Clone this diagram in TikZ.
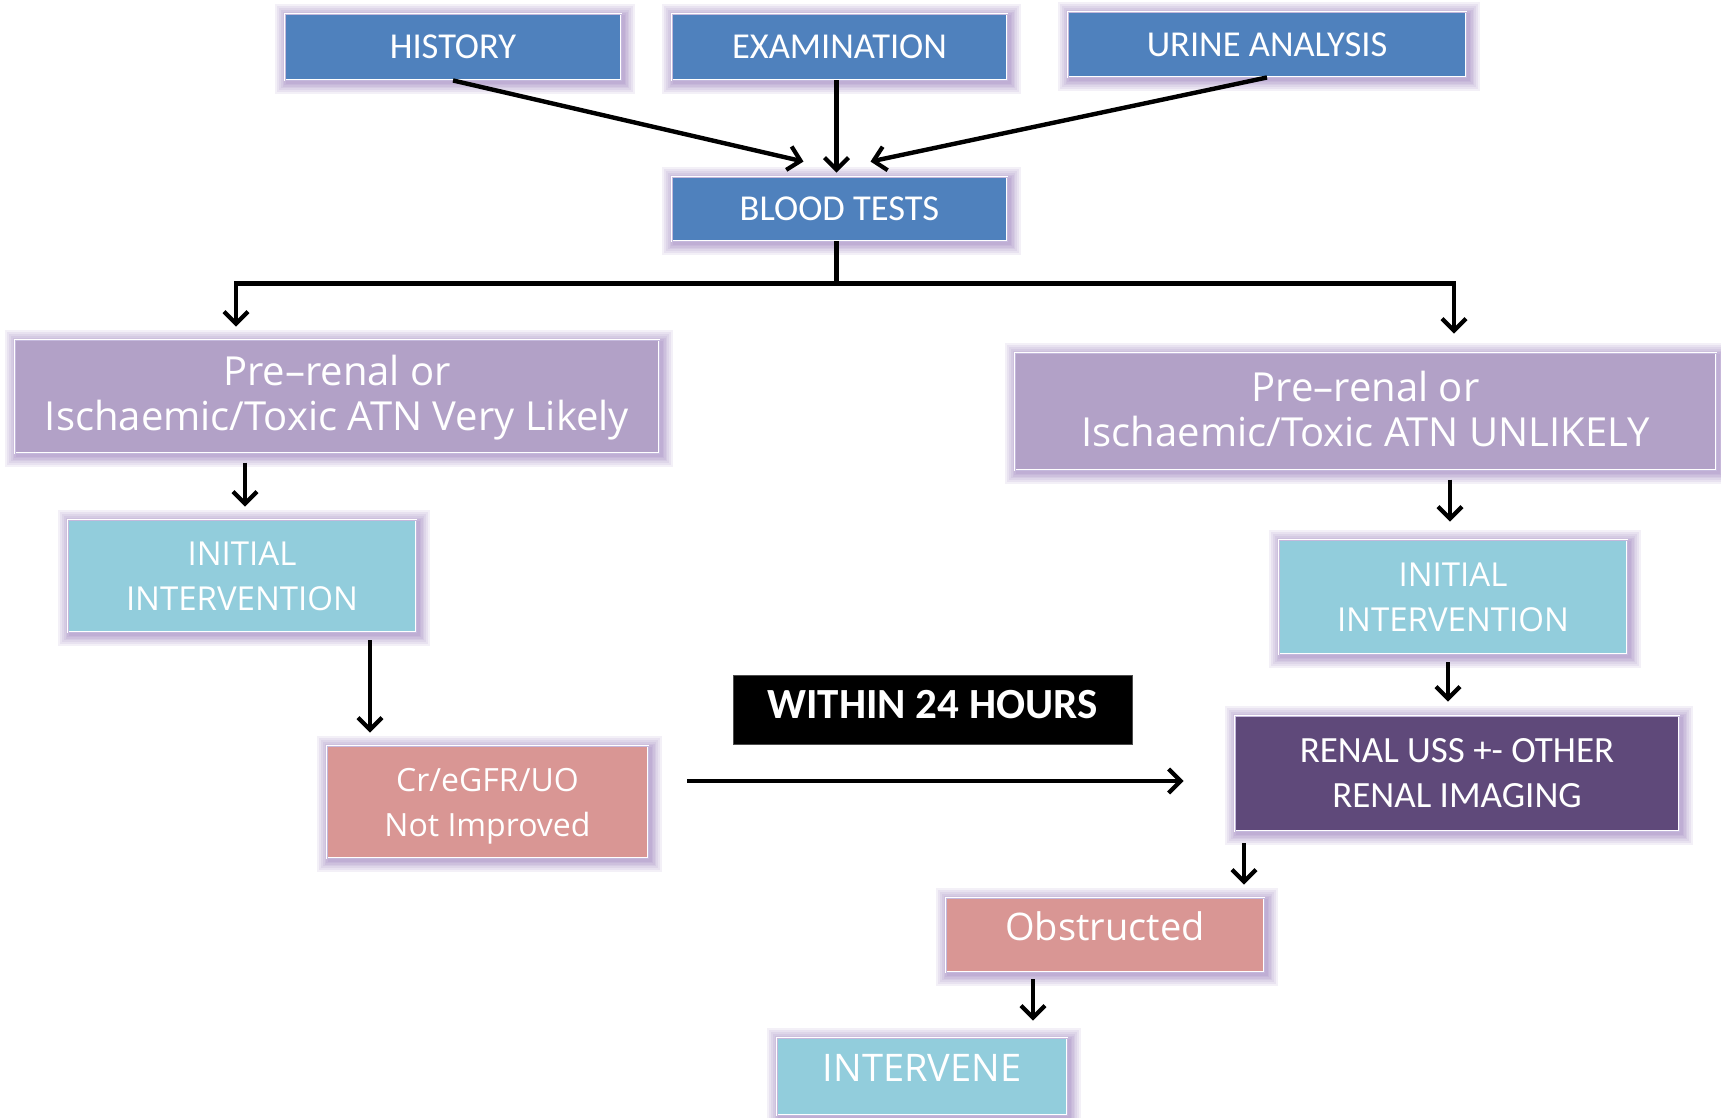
\documentclass[tikz,border=0pt]{standalone}
\usepackage{fontspec}
\setmainfont{Carlito}
\newfontfamily\osans{Open Sans}
\newfontfamily\calfont{Carlito}
\usetikzlibrary{arrows.meta,calc}

\definecolor{topblue}{RGB}{79,129,189}
\definecolor{lilac}{RGB}{178,161,199}
\definecolor{aqua}{RGB}{146,205,220}
\definecolor{rose}{RGB}{217,150,148}
\definecolor{plum}{RGB}{95,73,122}
\definecolor{halo}{RGB}{122,88,166}
\definecolor{rimline}{RGB}{196,184,220}

\tikzset{
  glowring/.style={preaction={draw=halo, line width=#1, opacity=.09,
    transform canvas={shift={(2pt,-2pt)}}}},
  box/.style={rectangle, draw=white, double=rimline, double distance=0.8pt, line width=0.9pt,
    text=white, inner sep=0pt, align=center,
    glowring=24pt, glowring=20pt, glowring=16pt, glowring=12pt, glowring=9pt,
    glowring=6pt, glowring=3pt},
  bluebox/.style={box, fill=topblue, font=\calfont\fontsize{36.5}{44}\selectfont},
  likelybox/.style={box, fill=lilac, font=\osans\fontsize{40}{45}\selectfont},
  initbox/.style={box, fill=aqua, font=\osans\fontsize{33}{45}\selectfont},
  rosebox/.style={box, fill=rose, font=\osans\fontsize{32}{45}\selectfont},
  imagingbox/.style={box, fill=plum, font=\calfont\fontsize{37}{45}\selectfont},
  timebox/.style={rectangle, fill=black, draw=black!70, line width=1pt, text=white, inner sep=0pt,
    font=\calfont\bfseries\fontsize{43}{50}\selectfont},
  flow/.style={line width=4.4pt, -{Straight Barb[length=12pt,width=24pt,line width=4.2pt]}},
  trunk/.style={line width=4.4pt}
}

\begin{document}
\begin{tikzpicture}[x=1pt,y=-1pt]
\useasboundingbox (0,0) rectangle (1721,1117);

% top row of assessments
\node[bluebox, minimum width=336pt, minimum height=66pt] (hist)  at (453,47)    {HISTORY};
\node[bluebox, minimum width=335pt, minimum height=66pt] (exam)  at (839.5,47)  {EXAMINATION};
\node[bluebox, minimum width=398pt, minimum height=65pt] (urine) at (1267,44.5) {URINE ANALYSIS};
\node[bluebox, minimum width=335pt, minimum height=64pt] (blood) at (839.5,209) {BLOOD TESTS};

% the two branches
\node[likelybox, minimum width=644pt, minimum height=113pt, text depth=7pt] (preL) at (337,396.5)
  {Pre–renal or\\Ischaemic/Toxic ATN Very Likely};
\node[likelybox, minimum width=701pt, minimum height=117pt] (preR) at (1365.5,411.5)
  {Pre–renal or\\Ischaemic/Toxic ATN UNLIKELY\rule[-5pt]{0pt}{5pt}};

\node[initbox, minimum width=348pt, minimum height=112pt] (initL) at (242,576)
  {INITIAL\\INTERVENTION};
\node[initbox, minimum width=348pt, minimum height=114pt] (initR) at (1453,597)
  {INITIAL\\INTERVENTION};

\node[rosebox, minimum width=321pt, minimum height=112pt, text depth=0pt] (cr) at (487.5,802)
  {Cr/eGFR/UO\\Not Improved};
\node[timebox, minimum width=399pt, minimum height=69pt, text height=30pt, text depth=12pt]
  (within) at (932.5,709.5) {WITHIN 24 HOURS};
\node[imagingbox, minimum width=444pt, minimum height=115pt] (renal) at (1457,773.5)
  {RENAL USS +- OTHER\\RENAL IMAGING};

\node[box, fill=rose, font=\osans\fontsize{38}{45}\selectfont, text height=20pt, text depth=10pt,
  minimum width=318pt, minimum height=74pt] (obst) at (1105,935) {Obstructed};
\node[box, fill=aqua, font=\osans\fontsize{38}{45}\selectfont, text height=20pt, text depth=10pt,
  minimum width=290pt, minimum height=77pt] (interv) at (922,1076.5) {INTERVENE};

% converging arrows into the blood tests
\draw[flow] (hist.south) -- ($(blood.north)+(-36,-15)$);
\draw[flow] ($(exam.south)+(-3,0)$) -- ($(blood.north)+(-3,-4)$);
\draw[flow] (urine.south) -- ($(blood.north)+(31,-15)$);

% fork below the blood tests
\coordinate (fork) at ($(blood.south)+(-3,42)$);
\coordinate (dl) at ($(preL.north)+(-101,-13)$);
\coordinate (dr) at ($(preR.north)+(88.5,-19)$);
\draw[trunk] ($(blood.south)+(-3,0)$) -- (fork);
\draw[flow] (fork) -| (dl);
\draw[flow] (fork) -| (dr);

% left branch
\draw[flow] ($(initL.north)+(3,-57)$) -- ($(initL.north)+(3,-13)$);
\draw[flow] ($(initL.south)+(128,8)$) -- ($(cr.north)+(-117.5,-13)$);
\draw[flow] ($(cr.east)+(39,-21)$) -- ($(renal.west)+(-51,7.5)$);

% right branch
\draw[flow] ($(initR.north)+(-3,-60)$) -- ($(initR.north)+(-3,-18)$);
\draw[flow] ($(initR.south)+(-5,8)$) -- ($(renal.north)+(-9,-14)$);
\draw[flow] ($(renal.south)+(-213,12)$) -- ($(obst.north)+(139,-13)$);
\draw[flow] ($(obst.south)+(-72,7)$) -- ($(interv.north)+(111,-17)$);
\end{tikzpicture}
\end{document}
